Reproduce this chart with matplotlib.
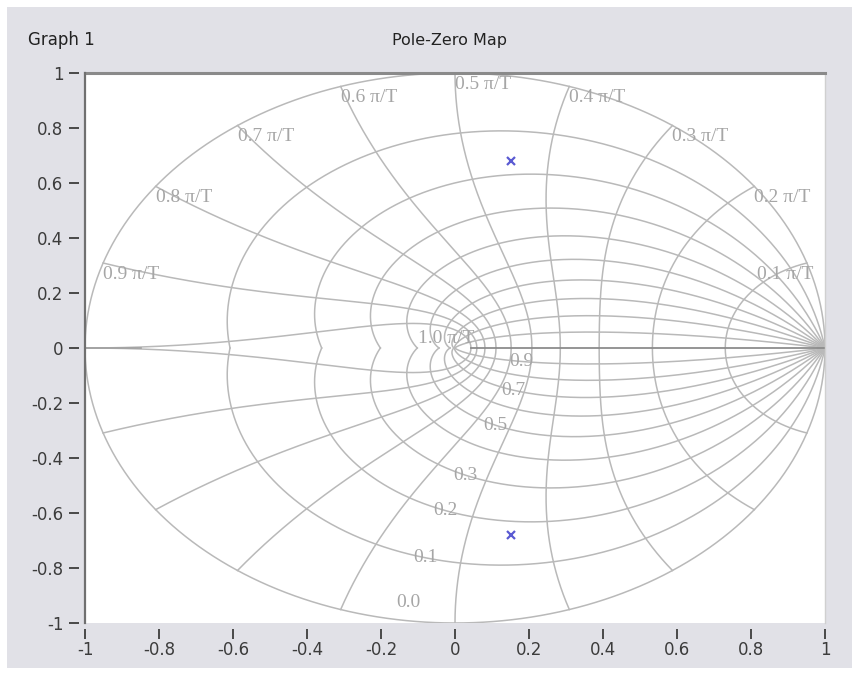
"""
Pole-zero map on a z-plane grid: damping curves, natural-frequency curves and two
complex-conjugate poles, drawn in the style of a LabVIEW graph.
"""

import numpy as np
import matplotlib
matplotlib.use("Agg")
import matplotlib.pyplot as plt
from matplotlib.patches import Rectangle

# grid levels: damping curves (spacing follows sin(level*pi/2)) and wn curves in pi/T
zeta_levels = [0.0, 0.1, 0.2, 0.3, 0.4, 0.5, 0.6, 0.7, 0.8, 0.9, 1.0]
zeta_labelled = [0.0, 0.1, 0.2, 0.3, 0.5, 0.7, 0.9]
wn_levels = [0.1, 0.2, 0.3, 0.4, 0.5, 0.6, 0.7, 0.8, 0.9, 1.0]

# poles
pole_re = [0.15, 0.15]
pole_im = [0.68, -0.68]

x_ticks = [-1, -0.8, -0.6, -0.4, -0.2, 0, 0.2, 0.4, 0.6, 0.8, 1]
y_ticks = [-1, -0.8, -0.6, -0.4, -0.2, 0, 0.2, 0.4, 0.6, 0.8, 1]

GRID = "#b9b9b9"
LABEL = "#a6a6a6"
PANEL = "#e1e1e7"
SERIF = "Liberation Serif"


def zeta_of(level):
    return np.sin(level * np.pi / 2)


fig = plt.figure(figsize=(8.59, 6.75), dpi=100, facecolor="white")
fig.patches.append(Rectangle((7 / 859, 7 / 675), 845 / 859, 661 / 675,
                             transform=fig.transFigure, facecolor=PANEL, edgecolor="none", zorder=-10))
ax = fig.add_axes([85 / 859, 52 / 675, 740 / 859, 550 / 675])
ax.set_facecolor("white")

# constant damping curves, running until they reach the negative real axis
omega = np.linspace(0, np.pi, 600)
for lev in zeta_levels:
    zeta = zeta_of(lev)
    if zeta >= 0.9999:
        x = np.exp(-np.linspace(0, np.pi, 50))
        ax.plot(x, np.zeros_like(x), color="#8c8c8c", lw=1.3, zorder=2)
        continue
    a = zeta / np.sqrt(1 - zeta ** 2)
    z = np.exp(omega * (-a + 1j))
    ax.plot(z.real, z.imag, color=GRID, lw=1.1, zorder=1)
    ax.plot(z.real, -z.imag, color=GRID, lw=1.1, zorder=1)

# constant natural frequency curves
zz = np.linspace(0, 1, 400)
for wn in wn_levels:
    w = wn * np.pi
    z = np.exp(w * (-zz + 1j * np.sqrt(1 - zz ** 2)))
    ax.plot(z.real, z.imag, color=GRID, lw=1.1, zorder=1)
    ax.plot(z.real, -z.imag, color=GRID, lw=1.1, zorder=1)
# the wn = pi curve starts along the real axis from -1
ax.plot([-1, -0.85], [0, 0], color="#a0a0a0", lw=1.2, zorder=1)

# wn labels at the unit circle (top-left anchored), 1.0 at the inner end
for wn in wn_levels:
    txt = f"{wn:.1f} \u03c0/T"
    if wn >= 1.0:
        ax.text(np.exp(-np.pi) + 0.01, 0.005, txt, ha="right", va="bottom",
                fontsize=14, family=SERIF, color=LABEL, zorder=3)
        continue
    x, y = np.cos(wn * np.pi), np.sin(wn * np.pi)
    ax.text(min(x, 0.815), y - 0.01, txt, ha="left", va="top",
            fontsize=14, family=SERIF, color=LABEL, zorder=3)

# damping labels in the lower half, along wn ~ 0.54 pi
w_lab = 0.54 * np.pi
for lev in zeta_labelled:
    zeta = zeta_of(lev)
    z = np.exp(w_lab * (-zeta - 1j * np.sqrt(1 - zeta ** 2)))
    ax.text(z.real, max(z.imag, -0.925), f"{lev:.1f}", ha="center", va="center",
            fontsize=14, family=SERIF, color=LABEL, zorder=3)

ax.plot(pole_re, pole_im, linestyle="none", marker="x", markersize=6, mew=1.6,
        color="#5a5ad2", zorder=4)

ax.set_xlim(-1, 1)
ax.set_ylim(-1, 1)
ax.set_xticks(x_ticks)
ax.set_yticks(y_ticks)
ax.set_xticklabels([f"{v:g}" for v in x_ticks])
ax.set_yticklabels([f"{v:g}" for v in y_ticks])
ax.tick_params(axis="both", direction="out", colors="#3c3c3c", labelsize=12,
               length=7, width=1.3)
ax.tick_params(axis="x", pad=2)
ax.tick_params(axis="y", pad=4.5)

# ticks sit a few pixels away from the plot area; the visible frame is drawn separately
ax.spines["bottom"].set_position(("outward", 4))
ax.spines["bottom"].set_visible(False)
ax.spines["left"].set_position(("outward", 4))
ax.spines["left"].set_visible(False)
ax.spines["top"].set_color("#8a8a8a")
ax.spines["top"].set_linewidth(2.2)
ax.spines["right"].set_color("#d0d0d0")
ax.spines["right"].set_linewidth(1.0)
ax.axvline(-1, color="#707070", lw=1.6, clip_on=False, zorder=5)

fig.text(28 / 859, 1 - 40 / 675, "Graph 1", ha="left", va="center", fontsize=12, color="#222222")
fig.text(450 / 859, 1 - 40 / 675, "Pole-Zero Map", ha="center", va="center", fontsize=11.5, color="#222222")

fig.savefig("out.png", dpi=100, facecolor=fig.get_facecolor())
